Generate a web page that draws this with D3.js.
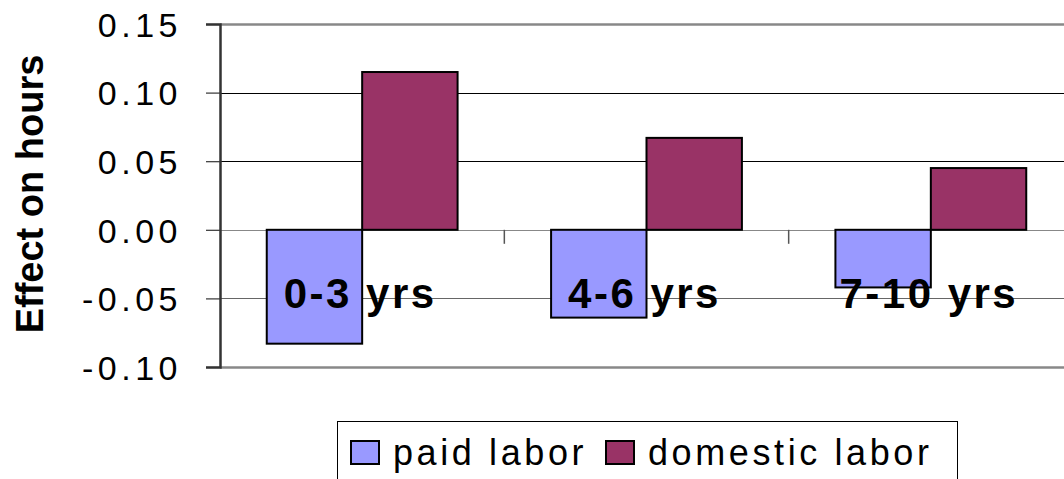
<!DOCTYPE html>
<html lang="en">
<head>
<meta charset="utf-8">
<title>Effect on hours</title>
<script src="https://d3js.org/d3.v7.min.js"></script>
<style>
  body { margin: 0; background: #fff; }
  text { font-family: "Liberation Sans", Arial, sans-serif; fill: #000; }
  .ytick text { font-size: 34px; letter-spacing: 4.5px; }
  .cat { font-size: 42px; font-weight: bold; letter-spacing: 2.5px; }
  .ytitle { font-size: 38px; font-weight: bold; }
  .legend text { font-size: 36px; letter-spacing: 3.6px; }
</style>
</head>
<body>
<script>
var categories = ["0-3 yrs", "4-6 yrs", "7-10 yrs"];
var seriesNames = ["paid labor", "domestic labor"];
var paidLabor = [-0.083, -0.064, -0.042];
var domesticLabor = [0.115, 0.067, 0.045];
var yTicks = [-0.10, -0.05, 0.00, 0.05, 0.10, 0.15];
var colors = ["#9999FF", "#993366"];

var w = 1064, h = 479;
var plotLeft = 220, plotRight = 1073, plotTop = 24, plotBottom = 367;

var svg = d3.select("body").append("svg")
    .attr("width", w)
    .attr("height", h);

var y = d3.scaleLinear().domain([-0.10, 0.15]).range([plotBottom, plotTop]);
var x0 = d3.scaleBand().domain(categories).range([plotLeft, plotRight]);
var x1 = d3.scaleBand().domain(seriesNames).range([0, x0.bandwidth()])
    .paddingInner(0).paddingOuter(0.49);

// gridlines
svg.selectAll(".grid")
    .data(yTicks)
    .enter().append("line")
    .attr("x1", plotLeft).attr("x2", plotRight)
    .attr("y1", function(d) { return Math.round(y(d)) + 0.5; })
    .attr("y2", function(d) { return Math.round(y(d)) + 0.5; })
    .attr("stroke", function(d) {
        if (d == 0.15 || d == -0.10) return "#888";
        if (d == 0) return "#888";
        if (d < 0) return "#666";
        return "#000";
    })
    .attr("stroke-width", function(d) {
        return (d == 0.15 || d == -0.10) ? 2.5 : 1;
    });

// bars
var data = categories.map(function(c, i) {
    return [{s: seriesNames[0], v: paidLabor[i], c: c},
            {s: seriesNames[1], v: domesticLabor[i], c: c}];
});

var groups = svg.selectAll(".grp")
    .data(data)
    .enter().append("g")
    .attr("transform", function(d, i) { return "translate(" + x0(categories[i]) + ",0)"; });

groups.selectAll("rect")
    .data(function(d) { return d; })
    .enter().append("rect")
    .attr("x", function(d) { return x1(d.s); })
    .attr("width", x1.bandwidth())
    .attr("y", function(d) { return y(Math.max(0, d.v)); })
    .attr("height", function(d) { return Math.abs(y(d.v) - y(0)); })
    .attr("fill", function(d, i) { return colors[i]; })
    .attr("stroke", "#000")
    .attr("stroke-width", 2);

// category ticks below zero line
svg.selectAll(".ctick")
    .data(categories.slice(1))
    .enter().append("line")
    .attr("x1", function(d) { return x0(d); })
    .attr("x2", function(d) { return x0(d); })
    .attr("y1", y(0)).attr("y2", y(0) + 14)
    .attr("stroke", "#555")
    .attr("stroke-width", 1.5);

// y axis
var yAxis = d3.axisLeft(y)
    .tickValues(yTicks)
    .tickSize(14)
    .tickPadding(28)
    .tickFormat(d3.format(".2f"));

var gy = svg.append("g")
    .attr("class", "ytick")
    .attr("transform", "translate(" + plotLeft + ",0)")
    .call(yAxis);
gy.select(".domain").attr("stroke", "#333").attr("stroke-width", 2.5);
gy.selectAll(".tick line").attr("stroke", "#333").attr("stroke-width", 1.2);
gy.selectAll(".tick text")
    .attr("font-family", null).attr("font-size", null)
    .attr("dx", 4)
    .attr("dy", "0.36em")
    .text(function(d) { return d3.format(".2f")(d).replace("−", "-"); });

// category labels
svg.selectAll(".cat")
    .data(categories)
    .enter().append("text")
    .attr("class", "cat")
    .attr("x", function(d) { return x0(d) + x0.bandwidth() / 2 - 2; })
    .attr("y", 308)
    .attr("text-anchor", "middle")
    .text(function(d) { return d; });

// y title
svg.append("text")
    .attr("class", "ytitle")
    .attr("transform", "translate(43,194) rotate(-90)")
    .attr("text-anchor", "middle")
    .text("Effect on hours");

// legend
var legend = svg.append("g").attr("class", "legend");
legend.append("rect")
    .attr("x", 337.5).attr("y", 421.5)
    .attr("width", 620).attr("height", 80)
    .attr("fill", "#fff").attr("stroke", "#000").attr("stroke-width", 1);

var legendX = [351, 606];
seriesNames.forEach(function(s, i) {
    legend.append("rect")
        .attr("x", legendX[i]).attr("y", 441)
        .attr("width", 28).attr("height", 23)
        .attr("fill", colors[i])
        .attr("stroke", "#000").attr("stroke-width", 2);
    legend.append("text")
        .attr("x", legendX[i] + 42)
        .attr("y", 465)
        .text(s);
});
</script>
</body>
</html>
